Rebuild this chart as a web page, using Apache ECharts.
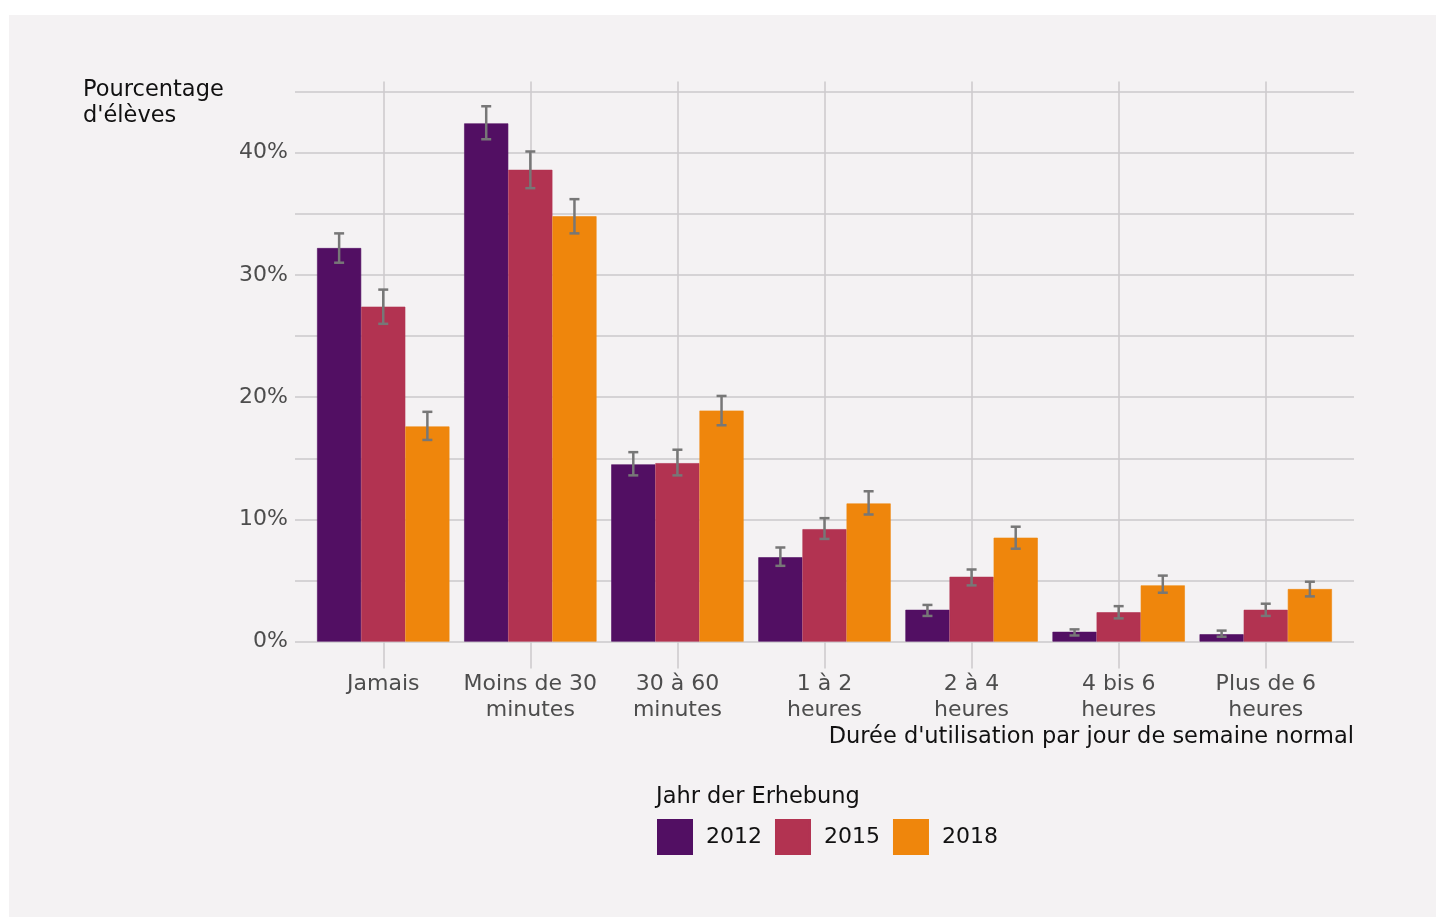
<!DOCTYPE html>
<html>
<head>
<meta charset="utf-8">
<script src="https://cdn.jsdelivr.net/npm/echarts@6/dist/echarts.min.js"></script>
<style>
  html, body { margin: 0; padding: 0; background: #ffffff; }
  #card { position: absolute; left: 9px; top: 15px; width: 1427px; height: 902px; background: #f4f2f3; }
  #chart { position: absolute; left: 0; top: 0; width: 1436px; height: 917px; }
</style>
</head>
<body>
<div id="card"></div>
<div id="chart"></div>
<script>
// Durée d'utilisation par jour de semaine normal, par année d'enquête
const categories = ['Jamais', 'Moins de 30\nminutes', '30 à 60\nminutes', '1 à 2\nheures', '2 à 4\nheures', '4 bis 6\nheures', 'Plus de 6\nheures'];
const years = ['2012', '2015', '2018'];

// Part des élèves (%)
const share2012 = [32.2, 42.4, 14.5, 6.9, 2.6, 0.8, 0.6];
const share2015 = [27.4, 38.6, 14.6, 9.2, 5.3, 2.4, 2.6];
const share2018 = [17.6, 34.8, 18.9, 11.3, 8.5, 4.6, 4.3];

// Intervalles de confiance (bas / haut)
const low2012 = [31.0, 41.1, 13.6, 6.2, 2.1, 0.5, 0.4];
const high2012 = [33.4, 43.8, 15.5, 7.7, 3.0, 1.0, 0.9];
const low2015 = [26.0, 37.1, 13.6, 8.4, 4.6, 1.9, 2.1];
const high2015 = [28.8, 40.1, 15.7, 10.1, 5.9, 2.9, 3.1];
const low2018 = [16.5, 33.4, 17.7, 10.4, 7.6, 4.0, 3.7];
const high2018 = [18.8, 36.2, 20.1, 12.3, 9.4, 5.4, 4.9];

const yTicksMax = 45;
const yTickStep = 5;

const colors = ['#520f63', '#b23351', '#ef860c'];
const shares = [share2012, share2015, share2018];
const lows = [low2012, low2015, low2018];
const highs = [high2012, high2015, high2018];

const FONT = '"DejaVu Sans", sans-serif';
const GRID_COLOR = '#cbc9cb';
const CAT_GAP = 0.10;

// Panel bounds; the discrete x scale is padded by 0.6 of a category on each side
const PANEL_LEFT = 295, PANEL_RIGHT = 1354, PANEL_TOP = 91.6, PANEL_H = 550;
const catStep = (PANEL_RIGHT - PANEL_LEFT) / (categories.length - 1 + 1.2);
const barLeft = PANEL_LEFT + catStep * 0.1;
const barRight = 1436 - (PANEL_RIGHT - catStep * 0.1);

function errorSeries(k) {
  const data = categories.map((c, i) => [i, lows[k][i], highs[k][i]]);
  return {
    type: 'custom',
    name: 'err' + years[k],
    xAxisIndex: 0,
    yAxisIndex: 1,
    z: 5,
    silent: true,
    data: data,
    encode: { x: 0, y: [1, 2] },
    renderItem: function (params, api) {
      const cat = api.value(0);
      const lo = api.coord([cat, api.value(1)]);
      const hi = api.coord([cat, api.value(2)]);
      const catW = api.size([1, 0])[0];
      const barW = catW * (1 - CAT_GAP) / 3;
      const x = lo[0] + (k - 1) * barW;
      const half = 5;
      const style = { stroke: '#777777', lineWidth: 2.5 };
      return {
        type: 'group',
        children: [
          { type: 'line', shape: { x1: x, y1: lo[1], x2: x, y2: hi[1] }, style: style },
          { type: 'line', shape: { x1: x - half, y1: lo[1], x2: x + half, y2: lo[1] }, style: style },
          { type: 'line', shape: { x1: x - half, y1: hi[1], x2: x + half, y2: hi[1] }, style: style }
        ]
      };
    }
  };
}

const chart = echarts.init(document.getElementById('chart'), null, { renderer: 'canvas' });

const option = {
  backgroundColor: 'transparent',
  animation: false,
  textStyle: { fontFamily: FONT },
  grid: [
    { left: PANEL_LEFT, right: 1436 - PANEL_RIGHT, top: PANEL_TOP, height: PANEL_H },
    { left: barLeft, right: barRight, top: PANEL_TOP, height: PANEL_H }
  ],
  xAxis: [
    {
      type: 'category',
      gridIndex: 1,
      data: categories,
      position: 'bottom',
      axisLine: { show: false },
      axisTick: { show: true, alignWithLabel: true, length: 27, lineStyle: { color: GRID_COLOR, width: 1.5 } },
      axisLabel: { color: '#4d4d4d', fontSize: 22, lineHeight: 26, margin: 30, fontFamily: FONT, interval: 0 },
      splitLine: { show: false }
    },
    {
      type: 'category',
      gridIndex: 1,
      data: categories,
      position: 'bottom',
      axisLine: { show: false },
      axisTick: { show: true, inside: true, alignWithLabel: true, length: 560, lineStyle: { color: GRID_COLOR, width: 1.5 } },
      axisLabel: { show: false },
      splitLine: { show: false }
    },
    {
      type: 'value',
      gridIndex: 0,
      show: false
    }
  ],
  yAxis: [
    {
      type: 'value',
      gridIndex: 0,
      min: 0,
      max: yTicksMax,
      interval: yTickStep,
      axisLine: { show: false },
      axisTick: { show: false },
      axisLabel: {
        color: '#4d4d4d', fontSize: 22, margin: 7, fontFamily: FONT,
        formatter: function (v) { return v % 10 === 0 ? v + '%' : ''; }
      },
      splitLine: { show: true, lineStyle: { color: GRID_COLOR, width: 1.5 } }
    },
    {
      type: 'value',
      gridIndex: 1,
      min: 0,
      max: yTicksMax,
      interval: yTickStep,
      show: false,
      splitLine: { show: false }
    }
  ],
  legend: {
    data: years,
    left: 657,
    top: 819,
    orient: 'horizontal',
    icon: 'rect',
    itemWidth: 34,
    itemHeight: 34,
    itemGap: 13,
    padding: 0,
    textStyle: { color: '#111111', fontSize: 22, fontFamily: FONT, padding: [0, 0, 0, 9] }
  },
  graphic: [
    {
      type: 'text', left: 83, top: 77,
      style: { text: 'Pourcentage\nd\'élèves', fill: '#111111', font: '22.5px ' + FONT, lineHeight: 26 }
    },
    {
      type: 'text', right: 82, top: 726,
      style: { text: 'Durée d\'utilisation par jour de semaine normal', fill: '#111111', font: '22.5px ' + FONT, textAlign: 'right' }
    },
    {
      type: 'text', left: 656, top: 786,
      style: { text: 'Jahr der Erhebung', fill: '#111111', font: '22.5px ' + FONT }
    }
  ],
  series: years.map((y, k) => ({
    type: 'bar',
    name: y,
    xAxisIndex: 0,
    yAxisIndex: 1,
    data: shares[k],
    itemStyle: { color: colors[k], borderColor: colors[k], borderWidth: 0.6 },
    barGap: '0%',
    barCategoryGap: (CAT_GAP * 100) + '%',
    z: 2
  })).concat(years.map((y, k) => errorSeries(k)))
};

chart.setOption(option);
</script>
</body>
</html>
